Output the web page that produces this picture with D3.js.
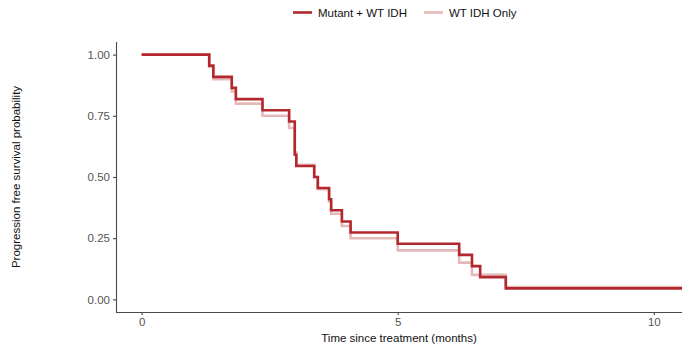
<!DOCTYPE html>
<html>
<head>
<meta charset="utf-8">
<script src="https://cdn.jsdelivr.net/npm/d3@7"></script>
<style>
  html, body { margin: 0; padding: 0; background: #fff; }
  svg { display: block; font-family: "Liberation Sans", Arial, sans-serif; }
</style>
</head>
<body>
<svg id="chart" width="682" height="347"></svg>
<script>
// Kaplan–Meier step data: event times (months) and survival after each step
const seriesNames = ["Mutant + WT IDH", "WT IDH Only"];
const mutantTimes = [0, 1.32, 1.40, 1.76, 1.84, 2.36, 2.88, 2.99, 3.02, 3.37, 3.44, 3.66, 3.70, 3.91, 4.08, 5.00, 6.20, 6.45, 6.61, 7.11, 10.55];
const mutantSurv  = [1.0, 0.955, 0.909, 0.864, 0.818, 0.773, 0.727, 0.591, 0.545, 0.500, 0.455, 0.409, 0.364, 0.318, 0.273, 0.227, 0.182, 0.136, 0.091, 0.045, 0.045];
const wtTimes = [0, 1.32, 1.40, 1.76, 1.84, 2.36, 2.88, 2.99, 3.02, 3.37, 3.44, 3.66, 3.70, 3.91, 4.08, 5.00, 6.20, 6.45, 7.11, 10.55];
const wtSurv  = [1.0, 0.95, 0.90, 0.85, 0.80, 0.75, 0.70, 0.60, 0.55, 0.50, 0.45, 0.40, 0.35, 0.30, 0.25, 0.20, 0.15, 0.10, 0.05, 0.05];
const xTicks = [0, 5, 10];
const yTicks = [0, 0.25, 0.5, 0.75, 1.0];
const colors = ["#b2282e", "#e6b9b9"];

const svg = d3.select("#chart");
const mLeft = 116, mRight = 682, mTop = 42, mBottom = 312;

const x = d3.scaleLinear().domain([-0.5, 10.55]).range([mLeft, mRight]);
const y = d3.scaleLinear().domain([-0.0516, 1.0516]).range([mBottom, mTop]);

const toPts = (ts, ss) => ts.map((t, i) => ({ t, s: ss[i] }));
const line = d3.line().x(d => x(d.t)).y(d => y(d.s)).curve(d3.curveStepAfter);

const plot = svg.append("g");
// light series underneath, dark series on top
[[wtTimes, wtSurv, colors[1]], [mutantTimes, mutantSurv, colors[0]]].forEach(([ts, ss, c]) => {
  plot.append("path")
    .datum(toPts(ts, ss))
    .attr("d", line)
    .attr("fill", "none")
    .attr("stroke", c)
    .attr("stroke-width", 2.6);
});

// axes
const axisColor = "#4a4a4a";
const xAxis = svg.append("g").attr("transform", `translate(0,${mBottom})`)
  .call(d3.axisBottom(x).tickValues(xTicks).tickFormat(d3.format("d")).tickSizeOuter(0).tickSize(3).tickPadding(3));
const yAxis = svg.append("g").attr("transform", `translate(${mLeft},0)`)
  .call(d3.axisLeft(y).tickValues(yTicks).tickFormat(d3.format(".2f")).tickSizeOuter(0).tickSize(3).tickPadding(3));
[xAxis, yAxis].forEach(a => {
  a.select(".domain").attr("stroke", axisColor).attr("stroke-width", 1.1);
  a.selectAll(".tick line").attr("stroke", axisColor).attr("stroke-width", 1.1);
  a.selectAll(".tick text").attr("fill", "#555").attr("font-size", 11.5)
    .attr("font-family", "Liberation Sans, Arial, sans-serif");
});
xAxis.select(".domain").attr("d", `M${mLeft},0.5H${mRight}`);
yAxis.select(".domain").attr("d", `M0.5,${mTop}V${mBottom}`);

// axis titles
svg.append("text")
  .attr("x", 399).attr("y", 342)
  .attr("text-anchor", "middle")
  .attr("font-size", 11.5).attr("fill", "#111")
  .text("Time since treatment (months)");
svg.append("text")
  .attr("transform", "translate(20,177) rotate(-90)")
  .attr("text-anchor", "middle")
  .attr("font-size", 11.5).attr("fill", "#111")
  .text("Progression free survival probability");

// legend
const legendItems = [
  { name: seriesNames[0], color: colors[0], x: 293 },
  { name: seriesNames[1], color: colors[1], x: 424 }
];
const lg = svg.append("g");
legendItems.forEach(it => {
  lg.append("line")
    .attr("x1", it.x).attr("x2", it.x + 19)
    .attr("y1", 12.5).attr("y2", 12.5)
    .attr("stroke", it.color).attr("stroke-width", 2.6);
  lg.append("text")
    .attr("x", it.x + 25).attr("y", 16.5)
    .attr("font-size", 11.5).attr("fill", "#111")
    .text(it.name);
});
</script>
</body>
</html>
